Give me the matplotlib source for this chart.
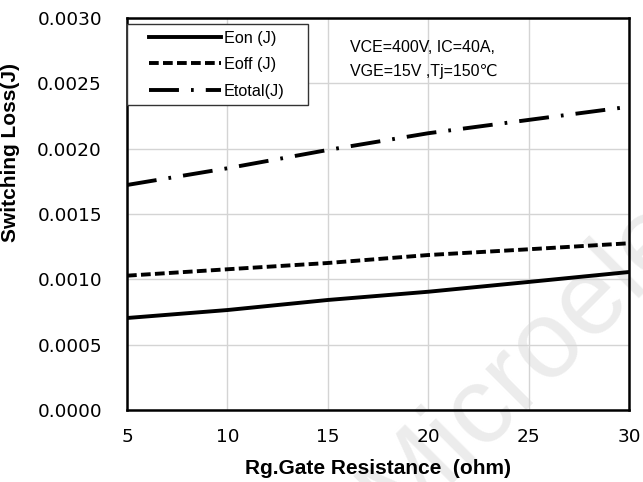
import numpy as np
import matplotlib.pyplot as plt
from matplotlib.ticker import FormatStrFormatter
from matplotlib.legend_handler import HandlerLine2D

# gate resistance (ohm) and switching losses (J)
rg = [5, 10, 15, 20, 25, 30]
eon = [0.000704, 0.000765, 0.000842, 0.000905, 0.000980, 0.001056]
eoff = [0.001028, 0.001077, 0.001125, 0.001186, 0.001230, 0.001276]
etotal = [0.001722, 0.001850, 0.001990, 0.002118, 0.002220, 0.002321]

xticks = [5, 10, 15, 20, 25, 30]
yticks = [0.0, 0.0005, 0.0010, 0.0015, 0.0020, 0.0025, 0.0030]

W, H = 643, 482
fig = plt.figure(figsize=(W / 100, H / 100), dpi=100)
ax = fig.add_axes([127 / W, 72 / H, 502 / W, 392 / H])
ax.set_facecolor('none')

# faint watermark behind everything
fig.text(398 / W, -47 / H, 'Microelectronics', rotation=45,
         rotation_mode='anchor', ha='left', va='baseline',
         family='Liberation Sans', fontsize=79, color='#ececec', zorder=-1)

ax.plot(rg, eon, color='black', lw=2.8, label='Eon (J)')
ax.plot(rg, eoff, color='black', lw=2.8, dashes=(2.5, 1.1), label='Eoff (J)')
ax.plot(rg, etotal, color='black', lw=2.8, dashes=(7.7, 3.1, 0.7, 3.1),
        label='Etotal(J)')

ax.set_xlim(5, 30)
ax.set_ylim(0, 0.003)
ax.set_xticks(xticks)
ax.set_yticks(yticks)
ax.yaxis.set_major_formatter(FormatStrFormatter('%.4f'))
ax.grid(True, color='#d4d4d4', lw=1)
ax.tick_params(length=0, labelsize=13.3)
ax.tick_params(axis='y', pad=18)
ax.tick_params(axis='x', pad=13)
for s in ax.spines.values():
    s.set_linewidth(1.8)

ax.set_xlabel('Rg.Gate Resistance  (ohm)', family='Liberation Sans',
              fontweight='bold', fontsize=15, labelpad=9)
ax.set_ylabel('Switching Loss(J)', family='Liberation Sans',
              fontweight='bold', fontsize=15)
ax.yaxis.set_label_coords(-107 / 502, (410 - 153) / 392)

hl = HandlerLine2D(xpad=0.98)
leg = ax.legend(loc='upper left', mode='expand',
                bbox_to_anchor=(0.0, 1.0 - 6 / 392, 181 / 502, 0.0),
                fancybox=False, edgecolor='#333333', framealpha=1,
                borderaxespad=0,
                prop={'family': 'Liberation Sans', 'size': 11.7},
                handlelength=5.4, handletextpad=0.15, borderpad=0.4,
                labelspacing=0.71,
                handler_map={ln: hl for ln in ax.get_lines()})
leg.get_frame().set_linewidth(1)

ax.text(350, H - 52, 'VCE=400V, IC=40A,', transform=None,
        family='Liberation Sans', fontsize=11.5, va='baseline')
ax.text(350, H - 76, 'VGE=15V ,Tj=150\u2103', transform=None,
        family=['Liberation Sans', 'DejaVu Sans'], fontsize=11.5,
        va='baseline')

fig.savefig('out.png', dpi=100)
